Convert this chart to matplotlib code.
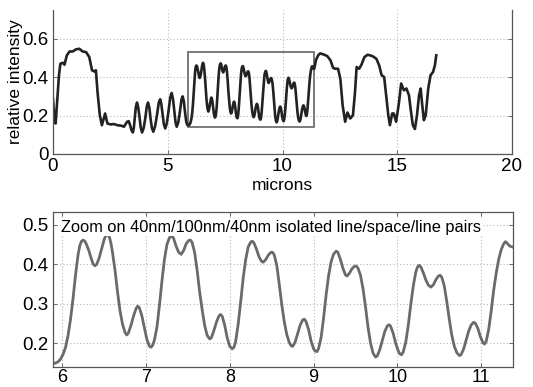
import numpy as np
import matplotlib
matplotlib.use("Agg")
import matplotlib.pyplot as plt
from matplotlib.patches import Rectangle

plt.rcParams['font.family'] = ['Liberation Sans', 'DejaVu Sans']

# line profile, left part: (microns, relative intensity)
left_pts = [
    (0.00, 0.29), (0.07, 0.168), (0.115, 0.159), (0.17, 0.254), (0.26, 0.41), (0.32, 0.47),
    (0.43, 0.475), (0.50, 0.465), (0.60, 0.513), (0.72, 0.534), (0.86, 0.534), (1.00, 0.545),
    (1.15, 0.548), (1.29, 0.534), (1.44, 0.531), (1.58, 0.505), (1.70, 0.436), (1.80, 0.43),
    (1.87, 0.436), (1.94, 0.323), (2.04, 0.202), (2.13, 0.15), (2.21, 0.185), (2.27, 0.211),
    (2.37, 0.159), (2.51, 0.154), (2.66, 0.156), (2.80, 0.15), (2.99, 0.147), (3.09, 0.142),
    (3.23, 0.168), (3.30, 0.171), (3.36, 0.150), (3.42, 0.124), (3.48, 0.112), (3.52, 0.135),
    (3.56, 0.185), (3.61, 0.245), (3.66, 0.268), (3.71, 0.245), (3.76, 0.202), (3.82, 0.140),
    (3.88, 0.112), (3.95, 0.135), (4.02, 0.185), (4.09, 0.250), (4.14, 0.268), (4.20, 0.240),
    (4.25, 0.185), (4.31, 0.135), (4.37, 0.116), (4.45, 0.145), (4.53, 0.202), (4.61, 0.268),
    (4.67, 0.285), (4.72, 0.260), (4.77, 0.211), (4.83, 0.155), (4.89, 0.133), (4.96, 0.160),
    (5.03, 0.220), (5.11, 0.295), (5.17, 0.318), (5.23, 0.285), (5.29, 0.220), (5.34, 0.165),
    (5.39, 0.142), (5.46, 0.165), (5.53, 0.220), (5.60, 0.285), (5.65, 0.300), (5.70, 0.275),
    (5.75, 0.220), (5.81, 0.165), (5.86, 0.150),
]

# zoomed section: 40nm/100nm/40nm line/space/line pairs
zoom_pts = [
    (5.89, 0.149), (5.92, 0.150), (5.95, 0.153), (5.98, 0.160), (6.01, 0.172), (6.04, 0.190),
    (6.07, 0.220), (6.10, 0.262), (6.13, 0.315), (6.16, 0.375), (6.19, 0.425), (6.21, 0.447),
    (6.23, 0.458), (6.25, 0.461), (6.27, 0.458), (6.29, 0.450), (6.32, 0.433), (6.35, 0.412),
    (6.37, 0.400), (6.39, 0.396), (6.41, 0.399), (6.44, 0.415), (6.47, 0.438), (6.50, 0.462),
    (6.52, 0.472), (6.54, 0.475), (6.56, 0.470), (6.58, 0.455), (6.60, 0.430), (6.63, 0.385),
    (6.66, 0.330), (6.69, 0.282), (6.72, 0.248), (6.75, 0.227), (6.77, 0.221), (6.79, 0.226),
    (6.82, 0.245), (6.85, 0.268), (6.88, 0.287), (6.90, 0.294), (6.92, 0.290), (6.95, 0.270),
    (6.98, 0.240), (7.01, 0.210), (7.04, 0.193), (7.06, 0.190), (7.08, 0.195), (7.10, 0.208),
    (7.13, 0.240), (7.16, 0.295), (7.19, 0.357), (7.22, 0.412), (7.25, 0.450), (7.28, 0.467),
    (7.31, 0.472), (7.33, 0.465), (7.36, 0.445), (7.39, 0.430), (7.42, 0.425), (7.45, 0.435),
    (7.48, 0.452), (7.51, 0.460), (7.53, 0.461), (7.55, 0.455), (7.58, 0.430), (7.61, 0.385),
    (7.64, 0.330), (7.67, 0.285), (7.70, 0.245), (7.73, 0.220), (7.76, 0.211), (7.78, 0.214),
    (7.81, 0.232), (7.84, 0.253), (7.87, 0.269), (7.89, 0.273), (7.91, 0.268), (7.94, 0.245),
    (7.97, 0.213), (8.00, 0.192), (8.03, 0.186), (8.05, 0.190), (8.07, 0.205), (8.10, 0.248),
    (8.13, 0.305), (8.16, 0.365), (8.19, 0.412), (8.22, 0.444), (8.25, 0.456), (8.27, 0.458),
    (8.29, 0.453), (8.32, 0.437), (8.35, 0.418), (8.38, 0.407), (8.40, 0.405), (8.43, 0.412),
    (8.46, 0.423), (8.49, 0.430), (8.51, 0.430), (8.53, 0.424), (8.56, 0.398), (8.59, 0.350),
    (8.62, 0.298), (8.65, 0.255), (8.68, 0.222), (8.71, 0.202), (8.73, 0.194), (8.75, 0.192),
    (8.78, 0.203), (8.81, 0.225), (8.84, 0.246), (8.87, 0.259), (8.89, 0.261), (8.91, 0.255),
    (8.94, 0.235), (8.97, 0.206), (9.00, 0.186), (9.02, 0.180), (9.04, 0.179), (9.06, 0.187),
    (9.09, 0.215), (9.12, 0.265), (9.15, 0.323), (9.18, 0.372), (9.21, 0.407), (9.24, 0.426),
    (9.27, 0.433), (9.29, 0.430), (9.32, 0.412), (9.35, 0.390), (9.38, 0.373), (9.40, 0.370),
    (9.43, 0.378), (9.46, 0.389), (9.49, 0.395), (9.51, 0.395), (9.53, 0.390), (9.56, 0.372),
    (9.59, 0.338), (9.62, 0.292), (9.65, 0.240), (9.68, 0.200), (9.71, 0.175), (9.74, 0.165),
    (9.76, 0.168), (9.79, 0.184), (9.82, 0.207), (9.85, 0.230), (9.88, 0.244), (9.90, 0.247),
    (9.92, 0.243), (9.95, 0.225), (9.98, 0.200), (10.01, 0.181), (10.03, 0.173), (10.05, 0.171),
    (10.07, 0.178), (10.10, 0.203), (10.13, 0.245), (10.16, 0.298), (10.19, 0.345), (10.22, 0.380),
    (10.24, 0.393), (10.26, 0.397), (10.28, 0.393), (10.31, 0.378), (10.34, 0.360), (10.37, 0.347),
    (10.40, 0.342), (10.43, 0.348), (10.46, 0.361), (10.49, 0.370), (10.51, 0.372), (10.53, 0.367),
    (10.56, 0.345), (10.59, 0.305), (10.62, 0.260), (10.65, 0.220), (10.68, 0.192), (10.71, 0.176),
    (10.74, 0.169), (10.76, 0.171), (10.79, 0.185), (10.82, 0.207), (10.85, 0.230), (10.88, 0.246),
    (10.91, 0.253), (10.93, 0.251), (10.96, 0.238), (10.99, 0.217), (11.02, 0.202), (11.04, 0.198),
    (11.06, 0.205), (11.09, 0.235), (11.12, 0.282), (11.15, 0.335), (11.18, 0.378), (11.21, 0.413),
    (11.24, 0.437), (11.27, 0.452), (11.29, 0.457), (11.31, 0.453), (11.34, 0.446), (11.38, 0.443),
]

# line profile, right part
right_pts = [
    (11.46, 0.490), (11.56, 0.515), (11.64, 0.524), (11.80, 0.518), (11.95, 0.510), (12.09, 0.488),
    (12.20, 0.450), (12.28, 0.444), (12.42, 0.444), (12.52, 0.392), (12.62, 0.254), (12.73, 0.168),
    (12.83, 0.216), (12.95, 0.185), (13.07, 0.202), (13.16, 0.323), (13.23, 0.453), (13.34, 0.444),
    (13.44, 0.465), (13.57, 0.505), (13.71, 0.517), (13.92, 0.510), (14.09, 0.496), (14.21, 0.462),
    (14.32, 0.410), (14.43, 0.401), (14.50, 0.323), (14.61, 0.202), (14.68, 0.150), (14.78, 0.211),
    (14.85, 0.211), (14.95, 0.168), (15.07, 0.263), (15.17, 0.367), (15.29, 0.332), (15.40, 0.341),
    (15.51, 0.306), (15.59, 0.228), (15.68, 0.150), (15.77, 0.130), (15.86, 0.202), (15.95, 0.306),
    (16.02, 0.341), (16.09, 0.254), (16.16, 0.176), (16.24, 0.202), (16.35, 0.341), (16.45, 0.410),
    (16.56, 0.427), (16.64, 0.462), (16.70, 0.514),
]

zoom_xlim = [5.89, 11.38]
zoom_ylim = [0.14, 0.532]
caption = 'Zoom on 40nm/100nm/40nm isolated line/space/line pairs'

zoom_x, zoom_y = np.array(zoom_pts).T
profile_x, profile_y = np.array(left_pts + zoom_pts + right_pts).T

W, H = 533, 387
fig = plt.figure(figsize=(W / 100, H / 100), dpi=100)

grid_kw = dict(color='#b8b8b8', linestyle=(0, (1, 2)), linewidth=0.8)

def style(ax):
    ax.tick_params(direction='in', top=True, right=True, labelsize=13.5,
                   length=3, width=0.6, color='#555555', pad=3)
    for s in ax.spines.values():
        s.set_color('#555555')
        s.set_linewidth(0.9)
    ax.grid(True, **grid_kw)
    ax.set_axisbelow(True)

# top: whole profile
ax1 = fig.add_axes([53 / W, 1 - 154 / H, 459 / W, 144 / H])
ax1.plot(profile_x, profile_y, color='#222222', lw=1.9, solid_joinstyle='round')
ax1.add_patch(Rectangle((zoom_xlim[0], zoom_ylim[0]), zoom_xlim[1] - zoom_xlim[0],
                        zoom_ylim[1] - zoom_ylim[0], fill=False,
                        edgecolor='#707070', lw=1.3))
ax1.set_xlim(0, 20)
ax1.set_ylim(0, 0.75)
ax1.set_xticks([0, 5, 10, 15, 20])
ax1.set_yticks([0, 0.2, 0.4, 0.6])
ax1.set_yticklabels(['0', '0.2', '0.4', '0.6'])
ax1.spines['top'].set_visible(False)
style(ax1)
ax1.tick_params(top=False)
ax1.set_xlabel('microns', fontsize=12.5, labelpad=2)
ax1.set_ylabel('relative intensity', fontsize=12.5, labelpad=0)

# bottom: zoomed section
ax2 = fig.add_axes([53 / W, 1 - 367 / H, 460 / W, 155 / H])
ax2.plot(zoom_x, zoom_y, color='#6a6a6a', lw=2.0, solid_joinstyle='round',
         solid_capstyle='round')
ax2.set_xlim(*zoom_xlim)
ax2.set_ylim(*zoom_ylim)
ax2.set_xticks([6, 7, 8, 9, 10, 11])
ax2.set_yticks([0.2, 0.3, 0.4, 0.5])
style(ax2)
ax2.tick_params(axis='x', labelsize=13, pad=1.5)
ax2.text(0.018, 0.9, caption, transform=ax2.transAxes, fontsize=11.8,
         va='center', ha='left',
         bbox=dict(facecolor='white', edgecolor='none', pad=0.5))

fig.savefig('out.png', dpi=100)
